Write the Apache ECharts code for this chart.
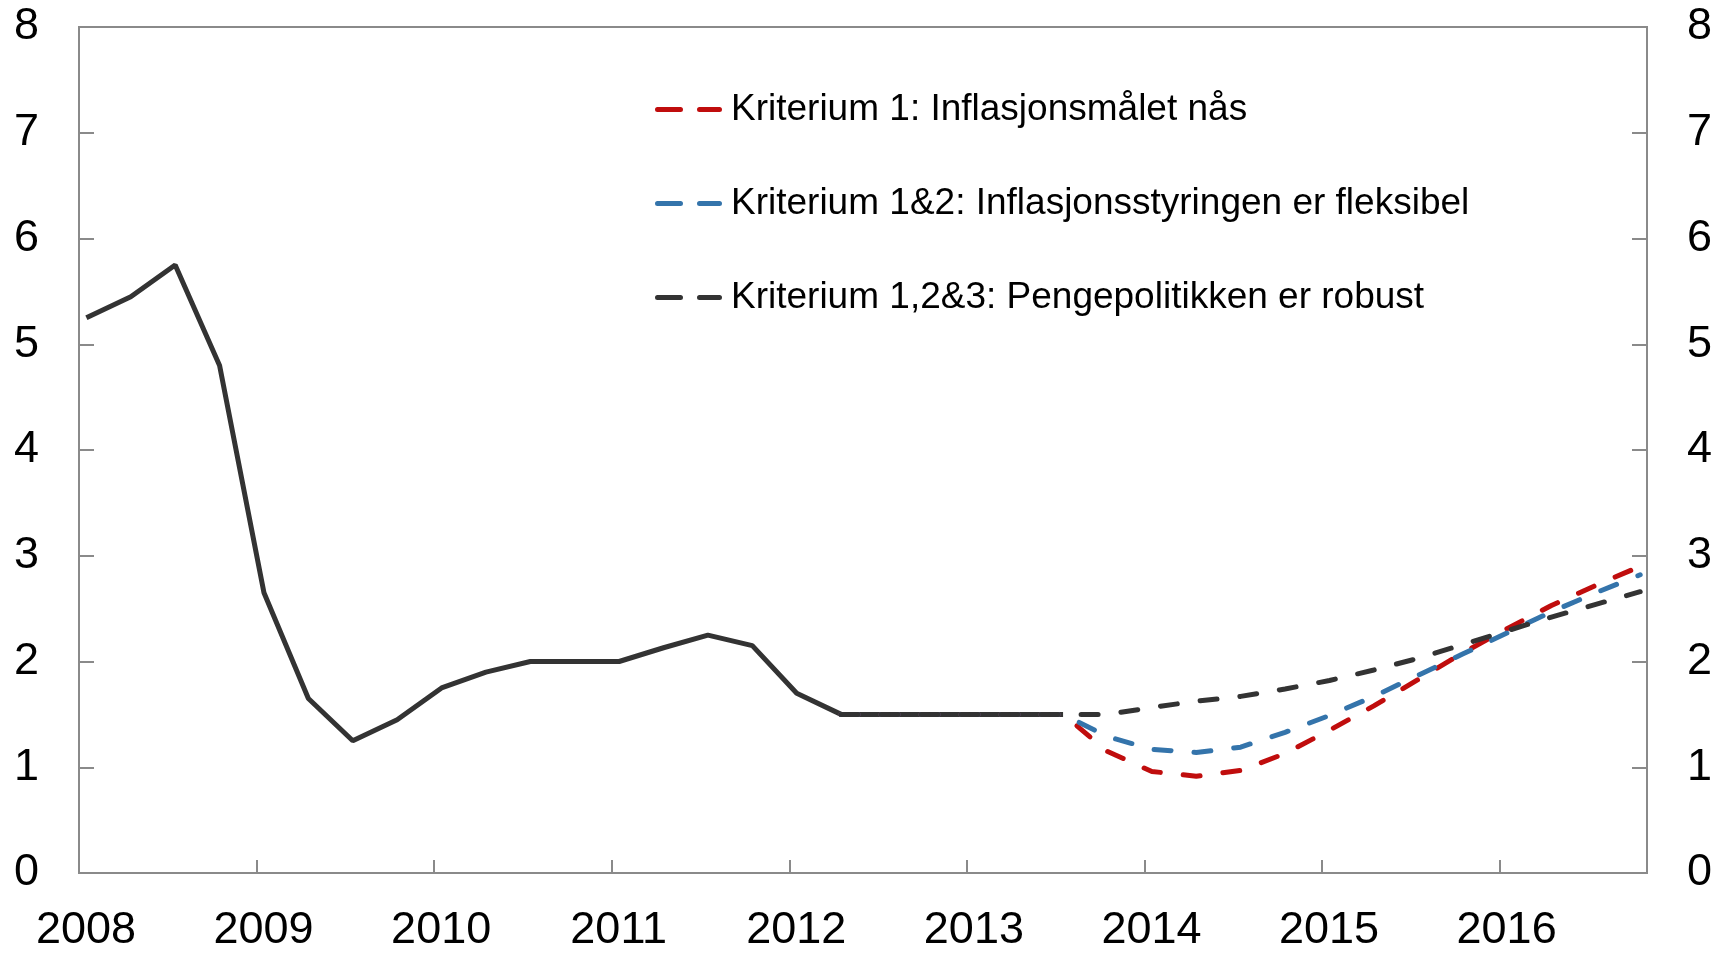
<!DOCTYPE html>
<html style="height: 100%">
 <head>
  <meta charset="utf-8" />
  <script type="text/javascript" src="https://cdn.jsdelivr.net/npm/echarts@6/dist/echarts.min.js"></script>
 </head>
 <body style="height: 100%; margin: 0; background: #fff">
  <div id="main" style="height:953px;width:1729px;"></div>
  <script type="text/javascript">
   // quarterly observations, plotted mid-month of the quarter's first month
   var quarters = [
     '2008-01', '2008-04', '2008-07', '2008-10',
     '2009-01', '2009-04', '2009-07', '2009-10',
     '2010-01', '2010-04', '2010-07', '2010-10',
     '2011-01', '2011-04', '2011-07', '2011-10',
     '2012-01', '2012-04', '2012-07', '2012-10',
     '2013-01', '2013-04', '2013-07', '2013-10',
     '2014-01', '2014-04', '2014-07', '2014-10',
     '2015-01', '2015-04', '2015-07', '2015-10',
     '2016-01', '2016-04', '2016-07', '2016-10'
   ];
   var historikk = [5.25, 5.45, 5.75, 4.8, 2.65, 1.65, 1.25, 1.45, 1.75, 1.9, 2.0, 2.0,
     2.0, 2.13, 2.25, 2.15, 1.7, 1.5, 1.5, 1.5, 1.5, 1.5, 1.5];
   var krit1 = [null, null, null, null, null, null, null, null, null, null, null, null,
     null, null, null, null, null, 1.5, 1.5, 1.5, 1.5, 1.5, 1.5,
     1.15, 0.96, 0.915, 0.97, 1.13, 1.35, 1.58, 1.83, 2.08, 2.31, 2.53, 2.72, 2.9];
   var krit12 = [null, null, null, null, null, null, null, null, null, null, null, null,
     null, null, null, null, null, 1.5, 1.5, 1.5, 1.5, 1.5, 1.5,
     1.29, 1.17, 1.14, 1.19, 1.33, 1.49, 1.67, 1.87, 2.07, 2.27, 2.47, 2.65, 2.82];
   var krit123 = [null, null, null, null, null, null, null, null, null, null, null, null,
     null, null, null, null, null, 1.5, 1.5, 1.5, 1.5, 1.5, 1.5,
     1.5, 1.565, 1.625, 1.67, 1.74, 1.82, 1.92, 2.03, 2.16, 2.29, 2.42, 2.54, 2.66];
   var names = [
     'Kriterium 1: Inflasjonsmålet nås',
     'Kriterium 1&2: Inflasjonsstyringen er fleksibel',
     'Kriterium 1,2&3: Pengepolitikken er robust'
   ];

   function toYear(q) {
     var p = q.split('-');
     return +p[0] + (+p[1] - 0.5) / 12;
   }
   function pairs(vals) {
     var out = [];
     for (var i = 0; i < vals.length; i++) {
       if (vals[i] !== null) out.push([toYear(quarters[i]), vals[i]]);
     }
     return out;
   }

   var font = 'Liberation Sans, Arial, sans-serif';
   var axisGray = '#8a8a8a';
   // two rounded dashes for the legend key
   var dashIcon = 'path://M2.5,0 H25.5 A2.5,2.5 0 0 1 25.5,5 H2.5 A2.5,2.5 0 0 1 2.5,0 Z ' +
     'M44.5,0 H64.5 A2.5,2.5 0 0 1 64.5,5 H44.5 A2.5,2.5 0 0 1 44.5,0 Z';
   var myChart = echarts.init(document.getElementById('main'));

   function yAxis(pos, margin) {
     return {
       type: 'value',
       position: pos,
       min: 0,
       max: 8,
       interval: 1,
       splitLine: { show: false },
       axisLine: { show: true, lineStyle: { color: axisGray, width: 2 } },
       axisTick: { show: true, inside: true, length: 15, lineStyle: { color: axisGray, width: 2 } },
       axisLabel: { color: '#000', fontSize: 45, fontFamily: font, margin: margin }
     };
   }

   function dashed(name, vals, color) {
     return {
       name: name,
       type: 'line',
       data: pairs(vals),
       symbol: 'none',
       lineStyle: { color: color, width: 5, type: [17, 23], cap: 'round' },
       itemStyle: { color: color }
     };
   }

   var option = {
     animation: false,
     backgroundColor: '#fff',
     grid: {
       left: 79, right: 82, top: 27, bottom: 80,
       show: true, borderColor: axisGray, borderWidth: 2
     },
     legend: {
       orient: 'vertical',
       left: 650,
       top: 86,
       icon: dashIcon,
       itemWidth: 67,
       itemHeight: 37,
       itemGap: 57,
       data: names,
       textStyle: { color: '#000', fontSize: 37, fontFamily: font, lineHeight: 37, padding: [0, 0, 0, 4] }
     },
     xAxis: {
       type: 'value',
       min: 2008,
       max: 2016.83,
       interval: 1,
       splitLine: { show: false },
       axisLine: { show: true, lineStyle: { color: axisGray, width: 2 } },
       axisTick: { show: true, inside: true, length: 13, lineStyle: { color: axisGray, width: 2 } },
       axisLabel: {
         color: '#000', fontSize: 45, fontFamily: font, margin: 35,
         padding: [0, 0, 0, 14],
         showMaxLabel: false,
         formatter: function (v) { return Math.abs(v - Math.round(v)) < 1e-6 ? String(Math.round(v)) : ''; }
       }
     },
     yAxis: [yAxis('left', 40), yAxis('right', 40)],
     series: [
       {
         name: 'Historikk',
         type: 'line',
         data: pairs(historikk),
         symbol: 'none',
         lineStyle: { color: '#333333', width: 5 },
         itemStyle: { color: '#333333' }
       },
       dashed(names[0], krit1, '#c00d0d'),
       dashed(names[1], krit12, '#3474ab'),
       dashed(names[2], krit123, '#333333')
     ]
   };
   myChart.setOption(option);
  </script>
 </body>
</html>
